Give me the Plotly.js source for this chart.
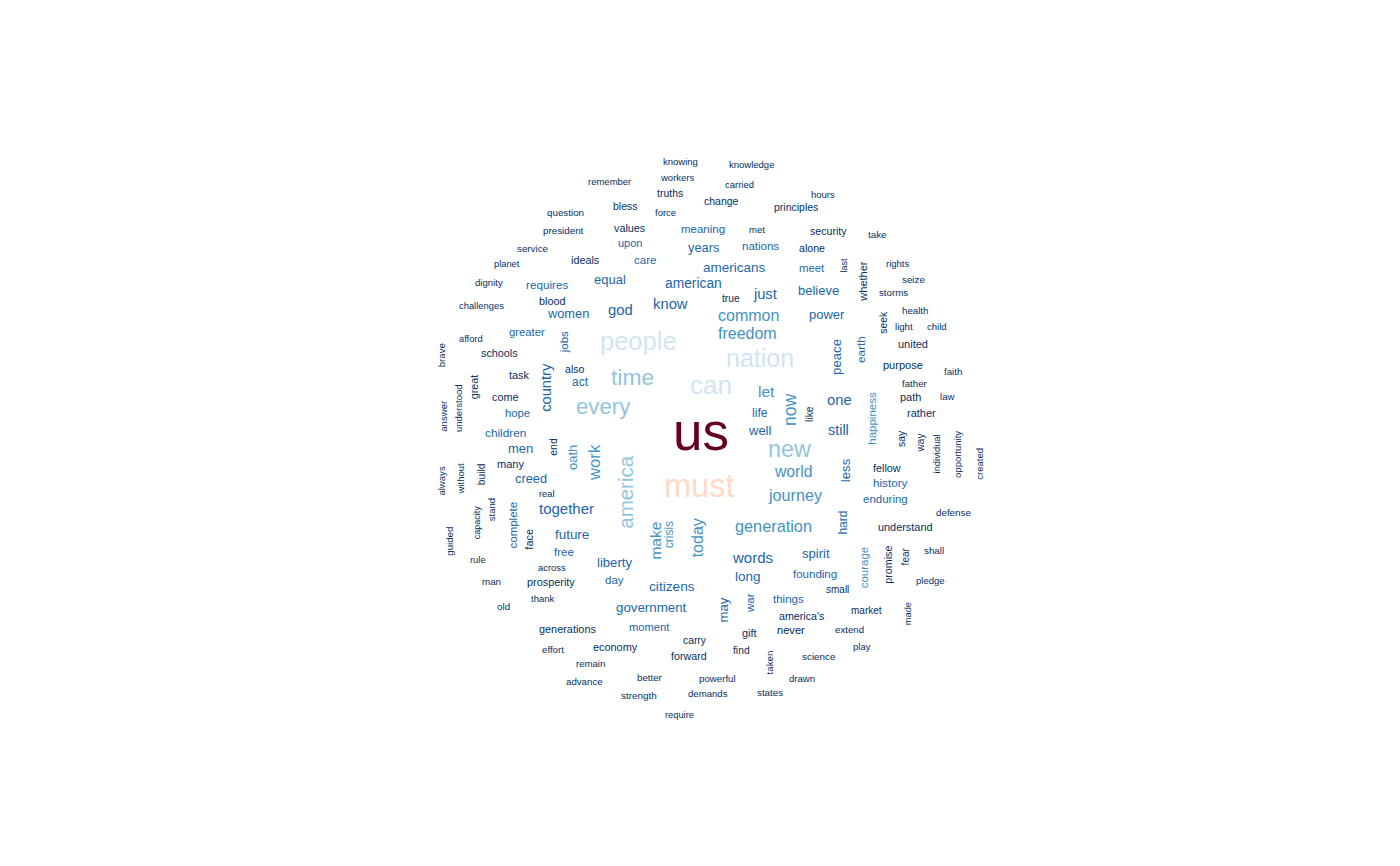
<!DOCTYPE html>
<html><head><meta charset="utf-8">
<script src="https://cdn.plot.ly/plotly-3.0.1.min.js"></script>
<style>html,body{margin:0;padding:0;background:#fff;}#chart{width:1400px;height:866px;}</style>
</head><body><div id="chart"></div>
<script>
const words = [
 "knowing","knowledge","workers","remember","carried","truths","hours","change","bless","principles",
 "force","question","meaning","met","values","security","president","take","upon","years",
 "nations","alone","service","ideals","care","planet","rights","last","americans","meet",
 "whether","seize","dignity","equal","american","requires","storms","believe","true","just",
 "blood","challenges","know","god","women","power","common","health","seek","light",
 "child","greater","freedom","jobs","people","afford","earth","united","peace","brave",
 "schools","nation","purpose","faith","also","task","time","country","act","can",
 "great","father","let","come","path","law","one","now","every","hope",
 "understood","answer","life","like","happiness","rather","us","still","well","children",
 "say","way","individual","opportunity","end","men","oath","new","created","work",
 "many","always","without","build","fellow","world","less","creed","america","must",
 "history","real","journey","enduring","together","capacity","stand","defense","complete","make",
 "crisis","today","hard","generation","understand","guided","face","future","free","rule",
 "words","spirit","courage","promise","fear","shall","liberty","across","long","founding",
 "man","prosperity","day","pledge","citizens","small","thank","war","things","may",
 "old","market","government","made","america's","moment","generations","extend","never","gift",
 "carry","economy","play","effort","find","forward","taken","science","remain","better",
 "powerful","drawn","advance","strength","demands","states","require"
];
const wordX = [
 680,751,677,609,739,670,823,721.5,625,795.5,
 665.5,565,703,756.5,630,828.5,563,877,630,703,
 760.5,811.5,533,585.5,645,507,897,845,734,812,
 863.3,913,489,609.5,693,546.5,893,818,730.7,765,
 551.5,481.7,670.5,620,568,827,748,914.5,883.3,904,
 937,526.5,747,565,638,470.7,861.7,912.5,836.7,442.3,
 499.5,760,902.5,953,574.5,518.7,632,546.7,580,710.5,
 475,915.3,766,504.5,910.3,947,839,791,603.5,517,
 459.3,444,759.7,810,872.7,921.7,700.5,838,760,505,
 902.3,920.7,937.3,957.3,553.3,520.5,573.3,789.5,980,595,
 510,441.7,461,481.7,887.3,793,846,531.3,626,699,
 890.7,546.5,795.5,885.7,566.5,477.7,492.3,953.3,512.7,656,
 670,698.3,843.3,773,905.5,449.3,529.3,571.5,564,477.5,
 752,816,865,888.3,905.7,933.7,614,551.7,748.3,815,
 491.8,551,614.5,930.3,672,837,542,750.7,788.7,723.3,
 503,866.3,651,908.3,801,649.5,567.5,849,791,749.7,
 695,615.3,862.3,553.3,741.3,689,770,819,590,650,
 717.5,801.5,584.5,639,708,769.8,679
];
const wordY = [
 161,164,176.7,181,183.7,192.3,193.7,200.7,205,206.7,
 211.7,211.7,228.3,228.3,227.3,230.3,230,233.3,242.3,246.7,
 245.7,247.3,247.7,259.3,259.3,262.7,262.7,265,266.7,267,
 282,278.7,281.7,279.3,283.3,284,291.7,290,297.7,294,
 300.7,304.3,304,310,313,314,315,309.3,322,326,
 325.3,331,333.3,342,341,338.3,349,343.7,357,355.5,
 352,358.5,364.7,370.3,368,374.7,377,387,381.3,385,
 387,382.7,391,396,396,396,399.3,410,407,412,
 408.3,415.3,412.7,413.5,418.7,412,434,429.3,429.7,432.7,
 438.2,443.3,453.7,454.2,447,447.7,457.5,448.7,463.3,462,
 463,480.5,479,474.2,467,471.3,470,478,492,487,
 482,493,494.7,498,507.7,522,509.5,512,525.5,540.5,
 535,538,523,526,526,541,539,534,551.7,558.3,
 557.3,553,567,565,556.3,549.7,561.7,566.7,576.3,573.3,
 580.7,581.7,579.7,580,585.7,589,597.3,603,598.3,610,
 605.7,609.7,607.3,613.5,615,626.3,628,629,629.7,632.3,
 639.3,646.7,645.7,648.3,650,655,662,655.7,662.3,676.7,
 678,678,680.7,695,693,691.7,714
];
const wordSize = [
 9.5,9.5,9.5,9.5,9.5,10.5,9.5,10.5,10.5,10.5,
 9.5,9.8,11.5,9.5,10.8,10.6,9.8,9.8,11,12.8,
 11.5,10.6,9.8,10.8,11.5,9.3,9.5,9,13.5,11.3,
 11,9.8,9.6,13,13.8,11.7,9.7,13,10.3,14.6,
 10.8,9.4,14.8,14.8,12.8,13,16,9.7,10.3,9.6,
 9.5,11.3,16,11.5,25.5,9.3,11.8,11,13.2,9.6,
 10.8,25,11,9.7,10.6,10.8,22.8,14.7,12,26,
 10.8,9.7,15.5,10.8,11,9.6,14.8,17.5,22.2,11.2,
 9.5,9.6,12.2,10.3,11.5,11,53,14.4,13,11.8,
 10.4,10,9.4,9.5,10.4,13,13,23.3,9.5,16.7,
 11,9.6,9.5,10.3,10.8,15.7,13.2,12.8,20.5,32.5,
 11.7,9.4,16.2,11.5,15,9,9.5,9.8,11.5,15.5,
 12,16,12,16.3,10.9,9.7,11,13.4,11.5,9.4,
 15,13.1,11.5,10.7,10,9.8,13.1,9.4,13.5,11.5,
 9.8,10.9,11.5,9.5,13.7,10,9.5,11.5,11.5,13.2,
 9.8,10,13.3,9.3,10.7,11.2,10.9,9.7,11.1,10.9,
 10.3,10.9,9.5,9.7,10.3,10.7,9.7,9.9,9.6,9.7,
 9.7,9.6,9.7,9.9,9.6,9.8,9.3
];
const wordTier = [
 6,6,6,6,6,6,6,6,6,6,
 6,6,5,6,6,6,6,6,5,5,
 5,6,6,6,5,6,6,6,5,5,
 6,6,6,5,5,5,6,5,6,5,
 6,6,5,5,5,5,4,6,6,6,
 6,5,4,5,2,6,5,6,5,6,
 6,2,6,6,6,6,3,5,5,2,
 6,6,4,6,6,6,5,4,3,5,
 6,6,5,6,4,6,0,5,5,5,
 6,6,6,6,6,5,4,3,6,4,
 6,6,6,6,6,4,5,5,3,1,
 5,6,4,5,5,6,6,6,5,4,
 4,4,5,4,6,6,6,5,5,6,
 5,5,4,6,6,6,5,6,5,5,
 6,6,5,6,5,6,6,5,5,5,
 6,6,5,6,6,5,6,6,6,6,
 6,6,6,6,6,6,6,6,6,6,
 6,6,6,6,6,6,6
];
const wordVertical = [
 0,0,0,0,0,0,0,0,0,0,
 0,0,0,0,0,0,0,0,0,0,
 0,0,0,0,0,0,0,1,0,0,
 1,0,0,0,0,0,0,0,0,0,
 0,0,0,0,0,0,0,0,1,0,
 0,0,0,1,0,0,1,0,1,1,
 0,0,0,0,0,0,0,1,0,0,
 1,0,0,0,0,0,0,1,0,0,
 1,1,0,1,1,0,0,0,0,0,
 1,1,1,1,1,0,1,0,1,1,
 0,1,1,1,0,0,1,0,1,0,
 0,0,0,0,0,1,1,0,1,1,
 1,1,1,0,0,1,1,0,0,0,
 0,0,1,1,1,0,0,0,0,0,
 0,0,0,0,0,0,0,1,0,1,
 0,0,0,1,0,0,0,0,0,0,
 0,0,0,0,0,0,1,0,0,0,
 0,0,0,0,0,0,0
];
const tierColors = ["#67001F","#FDDBC7","#D1E5F0","#92C5DE","#4393C3","#2166AC","#053061"];

const FONT = "Liberation Sans, Arial, Helvetica, sans-serif";
const annotations = words.map((w, i) => {
  const s = wordSize[i];
  const vert = wordVertical[i] === 1;
  return {
    x: wordX[i], y: wordY[i], xref: "x", yref: "y",
    text: w, showarrow: false,
    xanchor: "center", yanchor: "middle",
    textangle: vert ? -90 : 0,
    xshift: vert ? -0.06 * s : 0,
    yshift: vert ? 0 : 0.07 * s - 1.5,
    borderpad: 0,
    font: {family: FONT, size: s, color: tierColors[wordTier[i]]}
  };
});

const data = [{x: [], y: [], type: "scatter", mode: "markers", hoverinfo: "skip", showlegend: false}];
const layout = {
  width: 1400, height: 866,
  margin: {l: 0, r: 0, t: 0, b: 0},
  paper_bgcolor: "#ffffff", plot_bgcolor: "#ffffff",
  xaxis: {range: [0, 1400], visible: false, fixedrange: true},
  yaxis: {range: [866, 0], visible: false, fixedrange: true},
  showlegend: false,
  annotations: annotations
};
Plotly.newPlot("chart", data, layout, {staticPlot: true, displayModeBar: false});
</script>
</body></html>
